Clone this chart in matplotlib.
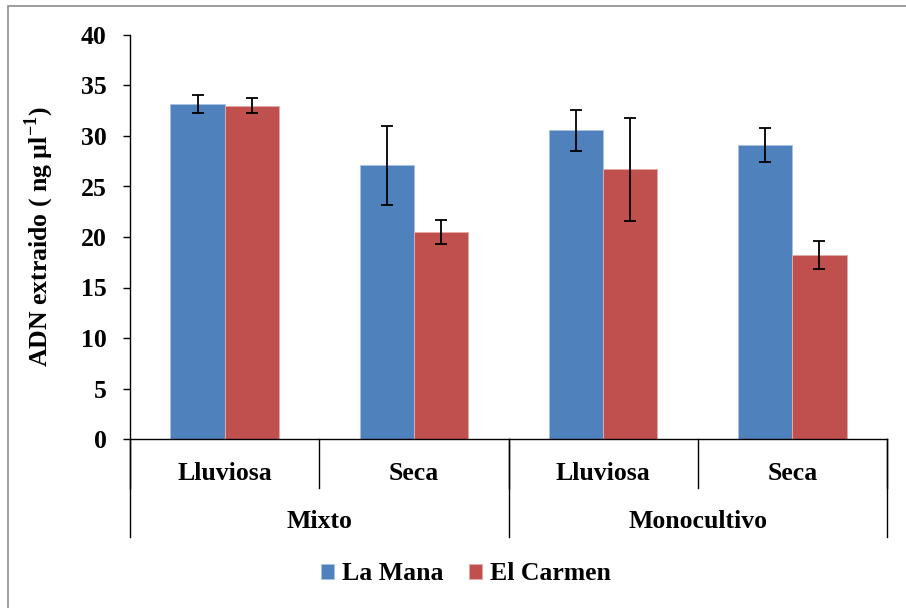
import numpy as np
import matplotlib
matplotlib.use('Agg')
import matplotlib.pyplot as plt
from matplotlib.patches import Rectangle

plt.rcParams['font.family'] = 'Liberation Serif'
plt.rcParams['font.weight'] = 'bold'
plt.rcParams['axes.labelweight'] = 'bold'
plt.rcParams['mathtext.fontset'] = 'custom'
plt.rcParams['mathtext.rm'] = 'Liberation Serif:bold'
plt.rcParams['mathtext.bf'] = 'Liberation Serif:bold'

# datos: ADN extraido por sistema / epoca / localidad
sistemas = ['Mixto', 'Monocultivo']
epocas = ['Lluviosa', 'Seca', 'Lluviosa', 'Seca']
series = ['La Mana', 'El Carmen']
la_mana = [33.2, 27.1, 30.55, 29.1]
la_mana_err = [0.9, 3.9, 2.0, 1.7]
el_carmen = [33.0, 20.5, 26.7, 18.2]
el_carmen_err = [0.75, 1.2, 5.1, 1.4]

azul = '#4F81BD'
rojo = '#C0504D'
fs = 18.5

fig = plt.figure(figsize=(9.06, 6.08), dpi=100)
ax = fig.add_axes([130 / 906, 1 - 439 / 608, 757 / 906, 404 / 608])

# marco gris del area del grafico
fig.patches.append(Rectangle((8 / 906, -0.1), 1.0, 1.1 - 6 / 608, transform=fig.transFigure,
                             fill=False, edgecolor='#8c8c8c', linewidth=1.2))

x = np.arange(len(epocas))
w = 0.286
ax.bar(x - w / 2, la_mana, w, color=azul, edgecolor='#a9c1e2', linewidth=0.7, label=series[0])
ax.bar(x + w / 2, el_carmen, w, color=rojo, edgecolor='#e3aaa8', linewidth=0.7, label=series[1])
ax.errorbar(x - w / 2, la_mana, yerr=la_mana_err, fmt='none', ecolor='black',
            elinewidth=1.3, capsize=4, capthick=1.3)
ax.errorbar(x + w / 2, el_carmen, yerr=el_carmen_err, fmt='none', ecolor='black',
            elinewidth=1.3, capsize=4, capthick=1.3)

ax.set_xlim(-0.5, 3.5)
ax.set_ylim(0, 40)
ax.set_yticks(np.arange(0, 41, 5))
ax.tick_params(axis='y', direction='out', length=5, width=1, pad=12, labelsize=fs)
ax.set_xticks([])
for s in ['top', 'right']:
    ax.spines[s].set_visible(False)
for s in ['left', 'bottom']:
    ax.spines[s].set_linewidth(1.0)

ax.set_ylabel(r'ADN extraido ( ng µl$^{\mathbf{-1}}$)', fontsize=fs, fontweight='bold', labelpad=18)

# eje de categorias en dos niveles
tr = ax.get_xaxis_transform()
for xs in [-0.5, 0.5, 1.5, 2.5, 3.5]:
    ax.plot([xs, xs], [0, -0.121], transform=tr, clip_on=False, color='black', lw=1.0)
for xs in [-0.5, 1.5, 3.5]:
    ax.plot([xs, xs], [0, -0.2426], transform=tr, clip_on=False, color='black', lw=1.0)
for i, lab in enumerate(epocas):
    ax.text(i, -0.1015, lab, transform=tr, ha='center', va='baseline', fontsize=fs)
for j, lab in enumerate(sistemas):
    ax.text(0.5 + 2 * j, -0.2203, lab, transform=tr, ha='center', va='baseline', fontsize=fs)

fig.legend(loc='center', bbox_to_anchor=(466 / 906, 1 - 574 / 608), ncol=2, frameon=False,
           fontsize=fs, handlelength=0.5, handleheight=0.5, handletextpad=0.3,
           columnspacing=1.0, borderpad=0)

fig.savefig('out.png', dpi=100)
